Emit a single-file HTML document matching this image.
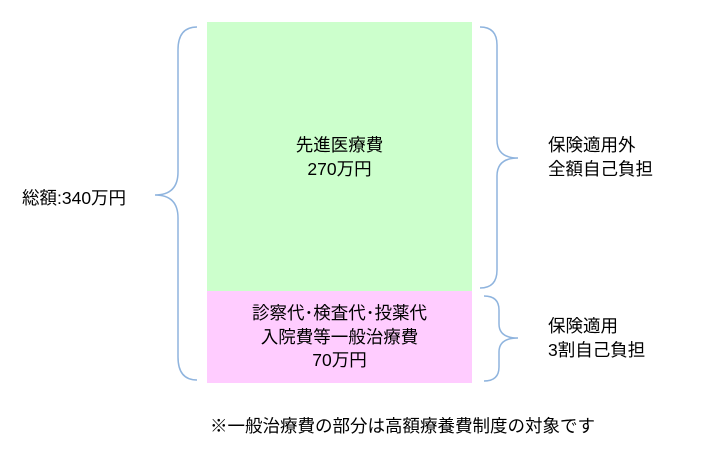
<!DOCTYPE html>
<html><head><meta charset="utf-8"><style>
body{margin:0;width:703px;height:459px;background:#fff;position:relative;overflow:hidden;font-family:"Liberation Sans","Noto Sans CJK JP",sans-serif;font-size:17.5px;color:#000}
.t{position:absolute;line-height:23.5px;white-space:nowrap}
</style></head><body>
<div style="position:absolute;left:207px;top:22px;width:265px;height:269px;background:#ccffcc"></div>
<div style="position:absolute;left:207px;top:291px;width:265px;height:92px;background:#ffccff"></div>
<svg width="703" height="459" style="position:absolute;left:0;top:0" fill="none" stroke="#8fb4de" stroke-width="1.5">
<path d="M197 27 Q178 27 178 50 L178 172 Q178 195 155 195 Q178 195 178 218 L178 357 Q178 380 197 380"/>
<path d="M480 27 Q497 27 497 45 L497 140 Q497 158 518 158 Q497 158 497 176 L497 270 Q497 288 480 288"/>
<path d="M484 296 Q499 296 499 310 L499 324 Q499 338 518 338 Q499 338 499 352 L499 367 Q499 381 484 381"/>
</svg>
<div class="t" style="left:207px;width:265px;text-align:center;top:134px">先進医療費<br>270万円</div>
<div class="t" style="left:207px;width:265px;text-align:center;top:302px">診察代･検査代･投薬代<br>入院費等一般治療費<br>70万円</div>
<div class="t" style="left:548px;top:134px">保険適用外<br>全額自己負担</div>
<div class="t" style="left:548px;top:315px">保険適用<br>3割自己負担</div>
<div class="t" style="left:22px;top:187px">総額:340万円</div>
<div class="t" style="left:210px;top:415px">※一般治療費の部分は高額療養費制度の対象です</div>
</body></html>
